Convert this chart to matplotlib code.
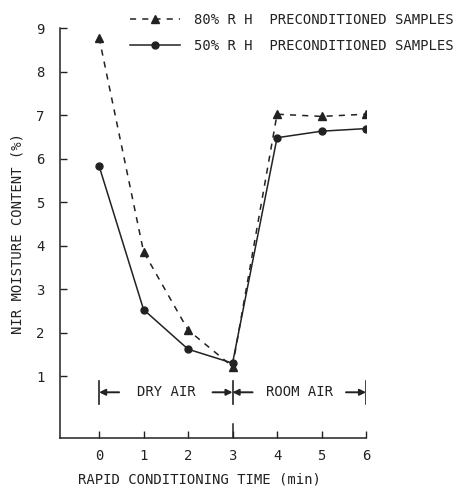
import matplotlib
matplotlib.use('Agg')
import matplotlib.pyplot as plt

# values
time_min = [0, 1, 2, 3, 4, 5, 6]
rh80 = [8.78, 3.86, 2.06, 1.22, 7.02, 6.97, 7.02]
rh50 = [5.83, 2.53, 1.62, 1.30, 6.48, 6.63, 6.69]
y_ticks = [1, 2, 3, 4, 5, 6, 7, 8, 9]

plt.rcParams['font.family'] = ['DejaVu Sans Mono']
plt.rcParams['font.size'] = 10
ink = '#222222'

fig = plt.figure(figsize=(4.61, 4.88), dpi=100)
ax = fig.add_axes([0.130, 0.1025, 0.664, 0.840])

ax.plot(time_min, rh80, '--', color=ink, lw=1.1, marker='^', ms=6,
        dashes=(4, 4), label='80% R H  PRECONDITIONED SAMPLES')
ax.plot(time_min, rh50, '-', color=ink, lw=1.1, marker='o', ms=5,
        label='50% R H  PRECONDITIONED SAMPLES')

ax.set_xlim(-0.88, 6.0)
ax.set_ylim(-0.42, 9.0)
ax.set_xticks(time_min)
ax.set_yticks(y_ticks)
ax.tick_params(direction='in', length=5, width=1, colors=ink)
ax.tick_params(axis='y', pad=11)
ax.tick_params(axis='x', pad=8)
for s in ['top', 'right']:
    ax.spines[s].set_visible(False)
for s in ['left', 'bottom']:
    ax.spines[s].set_color(ink)
    ax.spines[s].set_linewidth(1.1)

ax.set_xlabel('RAPID CONDITIONING TIME (min)', color=ink)
ax.set_ylabel('NIR MOISTURE CONTENT (%)', color=ink)
ax.xaxis.set_label_coords(0.457, -0.085)
ax.yaxis.set_label_coords(-0.115, 0.5)

# dry air / room air bracket
yb = 0.63
for xb in [0, 3, 6]:
    ax.plot([xb, xb], [yb - 0.27, yb + 0.27], color=ink, lw=1.2)
arrow = dict(arrowstyle='-|>', color=ink, lw=1.4, mutation_scale=9,
             shrinkA=0, shrinkB=0)
ax.annotate('', xy=(0, yb), xytext=(0.45, yb), arrowprops=arrow)
ax.annotate('', xy=(3, yb), xytext=(2.55, yb), arrowprops=arrow)
ax.annotate('', xy=(3, yb), xytext=(3.45, yb), arrowprops=arrow)
ax.annotate('', xy=(6, yb), xytext=(5.55, yb), arrowprops=arrow)
ax.text(1.5, yb, 'DRY AIR', ha='center', va='center', color=ink)
ax.text(4.5, yb, 'ROOM AIR', ha='center', va='center', color=ink)
ax.plot([3, 3], [-0.42, -0.1], color=ink, lw=1.1)

fig.legend(loc='upper left', bbox_to_anchor=(0.255, 1.0), frameon=False,
           handlelength=3.6, handletextpad=1.0, labelspacing=0.9,
           labelcolor=ink)

fig.savefig('out.png', dpi=100)
